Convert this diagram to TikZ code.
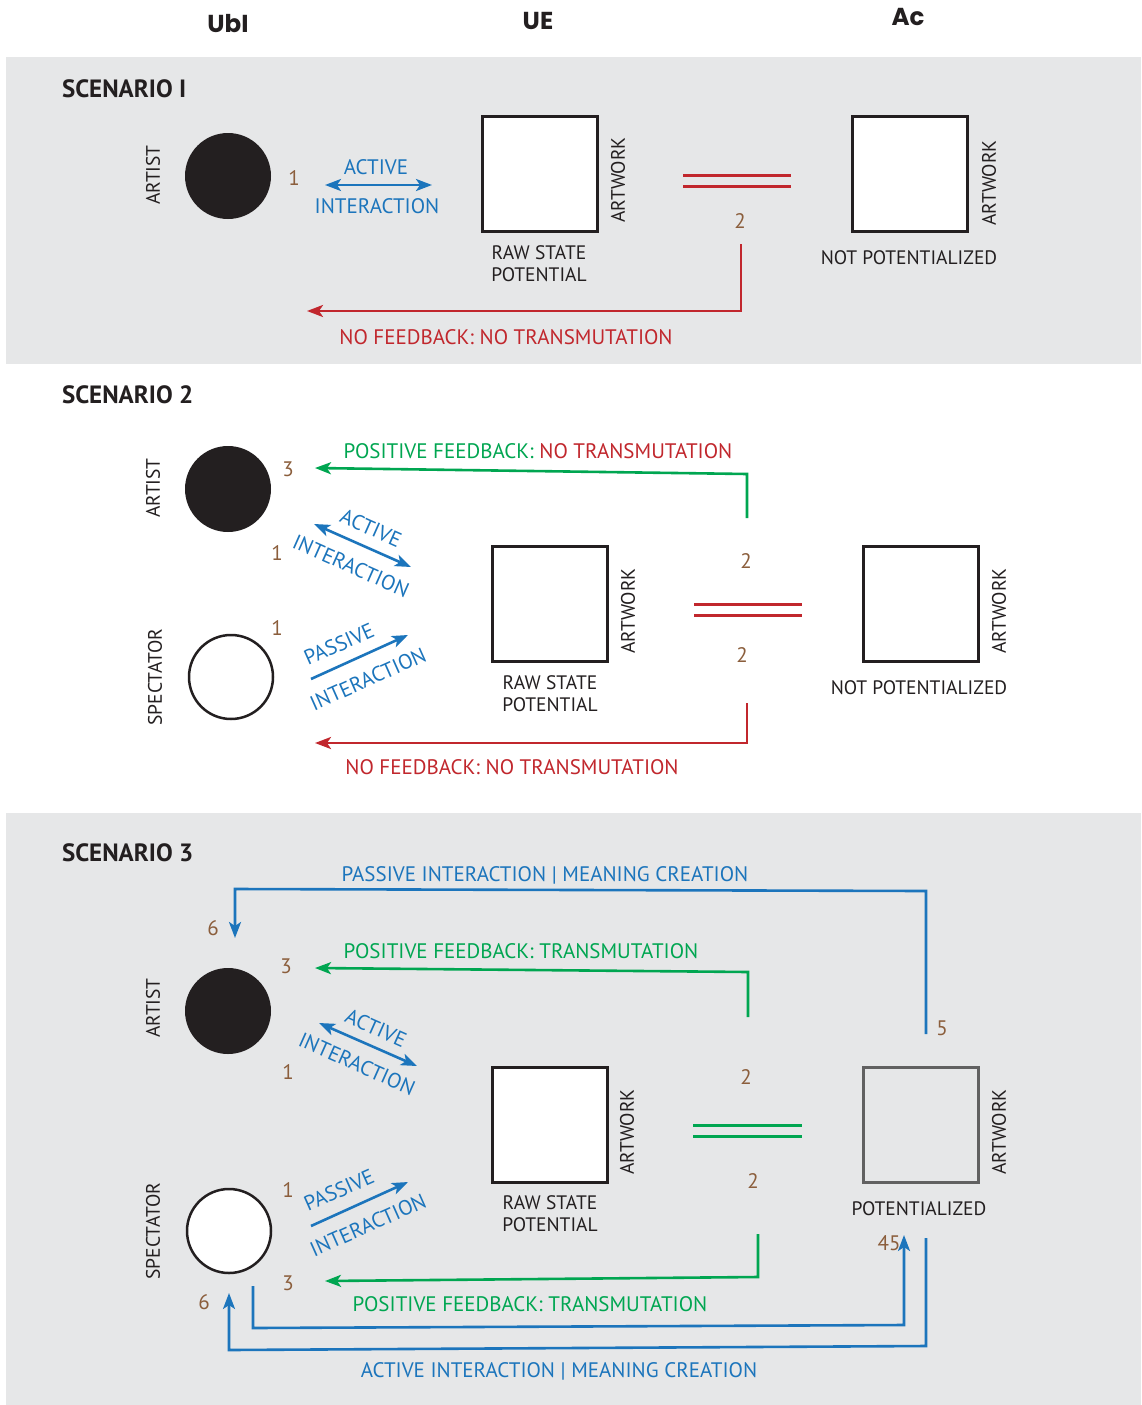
\documentclass[tikz,border=0pt]{standalone}
\usepackage{fontspec}
\setmainfont{PT Sans}
\newfontfamily\headfont{Poppins}
\usetikzlibrary{arrows.meta}
\definecolor{panel}{HTML}{E6E7E8}
\definecolor{ink}{HTML}{231F20}
\definecolor{iblue}{HTML}{1C75BC}
\definecolor{ired}{HTML}{C1272D}
\definecolor{igreen}{HTML}{00A651}
\definecolor{inum}{HTML}{8B5E3C}
\definecolor{igray}{HTML}{616161}
\begin{document}
\begin{tikzpicture}[x=1pt,y=-1pt,
  every node/.style={inner sep=0pt, outer sep=0pt},
  head/.style={text height=17pt, text depth=0pt, font=\fontsize{24.5}{24.5}\selectfont\headfont\bfseries, text=ink},
  scen/.style={text height=17.5pt, text depth=0pt, font=\fontsize{25}{25}\selectfont\bfseries, text=ink, anchor=west},
  role/.style={text height=13.6pt, text depth=0pt, font=\fontsize{19.5}{19.5}\selectfont, text=ink, rotate=90},
  capt/.style={font=\fontsize{19.5}{21.5}\selectfont, text=ink, align=center},
  captline/.style={text height=13.6pt, text depth=0pt, font=\fontsize{19.5}{19.5}\selectfont, text=ink},
  num/.style={text height=14.7pt, text depth=0pt, font=\fontsize{21}{21}\selectfont, text=inum},
  lbl/.style={text height=14.7pt, text depth=0pt, font=\fontsize{21}{21}\selectfont},
  artist/.style={circle, fill=ink, minimum size=86pt},
  spect/.style={circle, draw=ink, line width=2.5pt, fill=white, minimum size=84pt},
  work/.style={draw=ink, line width=3pt, fill=white, minimum size=115pt},
  workdone/.style={draw=igray, line width=3pt, minimum size=115pt},
  wire/.style={line width=2.6pt},
  eqbar/.style={line width=3pt},
  tip/.style={-{Stealth[length=16pt,width=12pt,inset=4pt]}},
  dtip/.style={{Stealth[length=16pt,width=12pt,inset=4pt]}-{Stealth[length=16pt,width=12pt,inset=4pt]}}
]
\useasboundingbox (0,0) rectangle (1141,1405);
\fill[white] (0,0) rectangle (1141,1405);
\fill[panel] (6,57) rectangle (1141,364);
\fill[panel] (6,813) rectangle (1141,1405);

% column headings
\node[head] (hUbI) at (228,24) {UbI};
\node[head] (hUE) at (538,21) {UE};
\node[head] (hAc) at (908,17) {Ac};

% ---------------- scenario 1 ----------------
\node[scen] (s1) at (62,89) {SCENARIO I};
\node[role] (s1artist) at (153,175) {ARTIST};
\node[artist] (s1c) at (228,176) {};
\node[num] (s1n1) at (294,178) {1};
\node[lbl, text=iblue] (s1act) at (376,167) {ACTIVE};
\node[lbl, text=iblue] (s1int) at (377,206) {INTERACTION};
\coordinate (s1aa) at (325,185);
\coordinate (s1ab) at (432,185);
\draw[wire, iblue, dtip] (s1aa) -- (s1ab);
\node[work] (s1w) at (540,174) {};
\node[role] (s1wl) at (618,180) {ARTWORK};
\node[capt, anchor=north] (s1raw) at (539,246) {RAW STATE\\POTENTIAL};
\draw[eqbar, ired] (683,175) -- (791,175) (683,186) -- (791,186);
\node[num] (s1n2) at (740,221) {2};
\node[work] (s1v) at (910,174) {};
\node[role] (s1vl) at (989,183) {ARTWORK};
\node[captline] (s1np) at (909,258) {NOT POTENTIALIZED};
\coordinate (s1fs) at (741,244);
\coordinate (s1fe) at (307,311);
\draw[wire, ired, tip] (s1fs) |- (s1fe);
\node[lbl, text=ired] (s1fl) at (506,337) {NO FEEDBACK: NO TRANSMUTATION};

% ---------------- scenario 2 ----------------
\node[scen] (s2) at (62,395) {SCENARIO 2};
\node[role] (s2artist) at (153,488) {ARTIST};
\node[artist] (s2c) at (228,489) {};
\node[role] (s2spec) at (155,677) {SPECTATOR};
\node[spect] (s2s) at (231,677) {};
\node[num] (s2n3) at (288,469) {3};
\node[num] (s2n1a) at (277,553) {1};
\node[num] (s2n1b) at (277,628) {1};
% positive feedback to the artist
\coordinate (s2gs) at (747,518);
\coordinate (s2gc) at (747,474);
\coordinate (s2ge) at (315,468);
\draw[wire, igreen, tip] (s2gs) -- (s2gc) -- (s2ge);
\node[lbl, text=igreen] (s2gl) at (538,451) {POSITIVE FEEDBACK: \textcolor{ired}{NO TRANSMUTATION}};
% active interaction
\coordinate (s2aa) at (314,524);
\coordinate (s2ab) at (411,567);
\draw[wire, iblue, dtip] (s2aa) -- (s2ab);
\node[lbl, text=iblue, rotate=-24] (s2act) at (371,528) {ACTIVE};
\node[lbl, text=iblue, rotate=-24] (s2int) at (351,566) {INTERACTION};
% passive interaction
\coordinate (s2pa) at (311,679);
\coordinate (s2pb) at (408,635);
\draw[wire, iblue, tip] (s2pa) -- (s2pb);
\node[lbl, text=iblue, rotate=24] (s2pas) at (339,644) {PASSIVE};
\node[lbl, text=iblue, rotate=24] (s2pint) at (368,679) {INTERACTION};
% artworks
\node[work] (s2w) at (550,604) {};
\node[role] (s2wl) at (628,611) {ARTWORK};
\node[capt, anchor=north] (s2raw) at (550,676) {RAW STATE\\POTENTIAL};
\node[num] (s2n2a) at (746,561) {2};
\draw[eqbar, ired] (694,604) -- (802,604) (694,615) -- (802,615);
\node[num] (s2n2b) at (742,655) {2};
\node[work] (s2v) at (921,604) {};
\node[role] (s2vl) at (999,611) {ARTWORK};
\node[captline] (s2np) at (919,688) {NOT POTENTIALIZED};
% no feedback
\coordinate (s2fs) at (747,703);
\coordinate (s2fe) at (315,743);
\draw[wire, ired, tip] (s2fs) |- (s2fe);
\node[lbl, text=ired] (s2fl) at (512,767) {NO FEEDBACK: NO TRANSMUTATION};

% ---------------- scenario 3 ----------------
\node[scen] (s3) at (62,853) {SCENARIO 3};
\node[role] (s3artist) at (153,1008) {ARTIST};
\node[artist] (s3c) at (228,1011) {};
\node[role] (s3spec) at (153,1231) {SPECTATOR};
\node[spect] (s3s) at (229,1231) {};
% passive interaction feeds meaning back to the artist
\coordinate (s3ps) at (926,1034);
\coordinate (s3pc1) at (926,891);
\coordinate (s3pc2) at (235,889);
\coordinate (s3pe) at (235,938);
\draw[wire, iblue, tip] (s3ps) -- (s3pc1) -- (s3pc2) -- (s3pe);
\node[lbl, text=iblue] (s3pl) at (545,874) {PASSIVE INTERACTION | MEANING CREATION};
\node[num] (s3n6a) at (213,928) {6};
\node[num] (s3n5) at (942,1028) {5};
% positive feedback to the artist
\node[num] (s3n3a) at (286,966) {3};
\coordinate (s3gs) at (748,1017);
\coordinate (s3gc) at (748,972);
\coordinate (s3ge) at (315,968);
\draw[wire, igreen, tip] (s3gs) -- (s3gc) -- (s3ge);
\node[lbl, text=igreen] (s3gl) at (521,951) {POSITIVE FEEDBACK: TRANSMUTATION};
% active interaction
\coordinate (s3aa) at (319,1023);
\coordinate (s3ab) at (417,1066);
\draw[wire, iblue, dtip] (s3aa) -- (s3ab);
\node[lbl, text=iblue, rotate=-24] (s3act) at (376,1028) {ACTIVE};
\node[lbl, text=iblue, rotate=-24] (s3int) at (357,1064) {INTERACTION};
\node[num] (s3n1a) at (288,1072) {1};
% artworks
\node[work] (s3w) at (550,1125) {};
\node[role] (s3wl) at (627,1132) {ARTWORK};
\node[capt, anchor=north] (s3raw) at (550,1196) {RAW STATE\\POTENTIAL};
\node[num] (s3n2a) at (746,1077) {2};
\draw[eqbar, igreen] (693,1125) -- (802,1125) (693,1136) -- (802,1136);
\node[num] (s3n2b) at (753,1181) {2};
\node[workdone] (s3v) at (921,1125) {};
\node[role] (s3vl) at (999,1132) {ARTWORK};
\node[captline] (s3pot) at (919,1209) {POTENTIALIZED};
% passive interaction of the spectator
\node[num] (s3n1b) at (288,1190) {1};
\coordinate (s3qa) at (311,1226);
\coordinate (s3qb) at (408,1182);
\draw[wire, iblue, tip] (s3qa) -- (s3qb);
\node[lbl, text=iblue, rotate=24] (s3qas) at (339,1190) {PASSIVE};
\node[lbl, text=iblue, rotate=24] (s3qint) at (368,1225) {INTERACTION};
% positive feedback to the spectator
\node[num] (s3n3b) at (288,1283) {3};
\coordinate (s3hs) at (758,1234);
\coordinate (s3hc) at (758,1277);
\coordinate (s3he) at (325,1281);
\draw[wire, igreen, tip] (s3hs) -- (s3hc) -- (s3he);
\node[lbl, text=igreen] (s3hl) at (530,1304) {POSITIVE FEEDBACK: TRANSMUTATION};
% active interaction loop between spectator and artwork
\node[num] (s3n45) at (889,1243) {45};
\coordinate (s3bs) at (253,1286);
\coordinate (s3bc1) at (253,1328);
\coordinate (s3bc2) at (904,1325);
\coordinate (s3be) at (904,1235);
\draw[wire, iblue, tip] (s3bs) -- (s3bc1) -- (s3bc2) -- (s3be);
\coordinate (s3cs) at (926,1238);
\coordinate (s3cc1) at (926,1346);
\coordinate (s3cc2) at (229,1350);
\coordinate (s3ce) at (229,1293);
\draw[wire, iblue, tip] (s3cs) -- (s3cc1) -- (s3cc2) -- (s3ce);
\node[num] (s3n6b) at (204,1302) {6};
\node[lbl, text=iblue] (s3al) at (559,1370) {ACTIVE INTERACTION | MEANING CREATION};
\end{tikzpicture}
\end{document}
